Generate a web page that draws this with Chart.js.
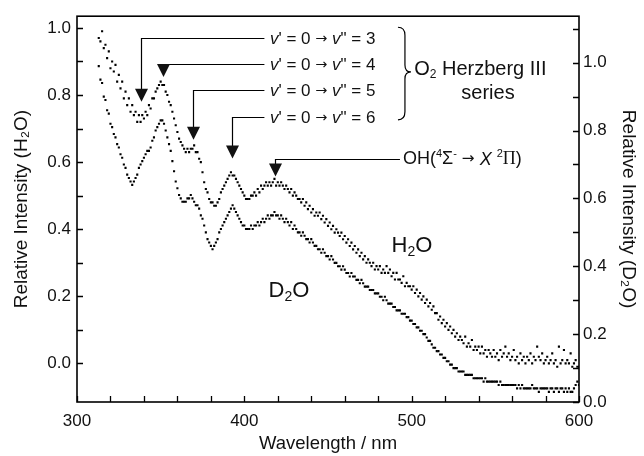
<!DOCTYPE html>
<html><head><meta charset="utf-8">
<script src="https://cdn.jsdelivr.net/npm/chart.js@4/dist/chart.umd.min.js"></script>
<style>html,body{margin:0;padding:0;background:#fff}#wrap{width:644px;height:456px}</style>
</head><body><div id="wrap"><canvas id="c" width="644" height="456"></canvas></div>
<script>
const wavelengths = [313,314,315,316,317,318,319,320,321,322,323,324,325,326,327,328,329,330,331,332,333,334,335,336,337,338,339,340,341,342,343,344,345,346,347,348,349,350,351,352,353,354,355,356,357,358,359,360,361,362,363,364,365,366,367,368,369,370,371,372,373,374,375,376,377,378,379,380,381,382,383,384,385,386,387,388,389,390,391,392,393,394,395,396,397,398,399,400,401,402,403,404,405,406,407,408,409,410,411,412,413,414,415,416,417,418,419,420,421,422,423,424,425,426,427,428,429,430,431,432,433,434,435,436,437,438,439,440,441,442,443,444,445,446,447,448,449,450,451,452,453,454,455,456,457,458,459,460,461,462,463,464,465,466,467,468,469,470,471,472,473,474,475,476,477,478,479,480,481,482,483,484,485,486,487,488,489,490,491,492,493,494,495,496,497,498,499,500,501,502,503,504,505,506,507,508,509,510,511,512,513,514,515,516,517,518,519,520,521,522,523,524,525,526,527,528,529,530,531,532,533,534,535,536,537,538,539,540,541,542,543,544,545,546,547,548,549,550,551,552,553,554,555,556,557,558,559,560,561,562,563,564,565,566,567,568,569,570,571,572,573,574,575,576,577,578,579,580,581,582,583,584,585,586,587,588,589,590,591,592,593,594,595,596,597,598,599,600];

// Relative intensity, H2O (left axis)
const h2o = [
0.97,0.96,0.99,0.94,0.95,0.91,0.93,0.88,0.90,0.87,
0.89,0.84,0.86,0.82,0.84,0.79,0.81,0.77,0.79,0.75,
0.77,0.74,0.75,0.72,0.74,0.72,0.74,0.73,0.75,0.74,
0.77,0.76,0.79,0.79,0.81,0.82,0.83,0.84,0.83,0.83,
0.81,0.80,0.78,0.77,0.75,0.73,0.71,0.69,0.67,0.66,
0.65,0.64,0.63,0.64,0.63,0.64,0.64,0.65,0.63,0.63,
0.61,0.60,0.57,0.54,0.52,0.51,0.49,0.48,0.48,0.47,
0.47,0.48,0.49,0.51,0.52,0.53,0.54,0.55,0.56,0.57,
0.56,0.56,0.55,0.54,0.53,0.52,0.51,0.50,0.49,0.49,
0.49,0.50,0.50,0.51,0.50,0.52,0.51,0.53,0.52,0.53,
0.54,0.53,0.54,0.53,0.54,0.55,0.53,0.54,0.53,0.54,
0.53,0.52,0.53,0.52,0.51,0.52,0.50,0.51,0.50,0.49,
0.49,0.48,0.49,0.47,0.48,0.46,0.47,0.45,0.46,0.44,
0.45,0.44,0.45,0.43,0.44,0.42,0.43,0.41,0.42,0.40,
0.41,0.39,0.40,0.39,0.38,0.39,0.37,0.38,0.36,0.37,
0.35,0.36,0.34,0.35,0.33,0.34,0.32,0.33,0.31,0.32,
0.30,0.31,0.30,0.29,0.30,0.28,0.29,0.28,0.29,0.27,
0.28,0.27,0.29,0.27,0.28,0.26,0.27,0.25,0.27,0.25,
0.25,0.24,0.26,0.23,0.24,0.23,0.23,0.22,0.23,0.21,
0.22,0.20,0.21,0.19,0.20,0.18,0.19,0.17,0.18,0.16,
0.17,0.15,0.15,0.13,0.14,0.12,0.13,0.11,0.12,0.10,
0.11,0.09,0.10,0.08,0.09,0.07,0.08,0.07,0.06,0.08,
0.05,0.06,0.05,0.07,0.04,0.05,0.04,0.05,0.03,0.05,
0.03,0.04,0.02,0.04,0.03,0.02,0.04,0.02,0.03,0.01,
0.04,0.02,0.03,0.05,0.02,0.03,0.01,0.02,0.04,0.01,
0.02,0.00,0.03,0.01,0.02,0.00,0.02,0.01,0.03,0.00,
0.02,0.01,0.05,0.02,0.01,0.03,0.00,0.01,0.02,0.00,
0.01,0.03,0.00,0.01,-0.01,0.05,0.00,0.01,0.04,0.00,
0.01,0.00,0.03,-0.01,0.00,0.01,-0.01,-0.01];

// Relative intensity, D2O (right axis)
const d2o = [
0.99,0.95,0.94,0.90,0.89,0.86,0.85,0.82,0.81,0.79,
0.78,0.76,0.75,0.73,0.72,0.70,0.69,0.67,0.66,0.65,
0.64,0.65,0.66,0.67,0.69,0.70,0.71,0.72,0.73,0.74,
0.74,0.75,0.77,0.78,0.80,0.81,0.82,0.83,0.83,0.82,
0.80,0.78,0.76,0.74,0.71,0.68,0.65,0.63,0.61,0.60,
0.59,0.59,0.59,0.60,0.60,0.61,0.60,0.59,0.58,0.58,
0.57,0.55,0.54,0.52,0.50,0.48,0.47,0.46,0.45,0.46,
0.47,0.48,0.50,0.51,0.52,0.53,0.54,0.55,0.56,0.57,
0.58,0.57,0.56,0.55,0.54,0.53,0.52,0.52,0.51,0.51,
0.51,0.52,0.51,0.52,0.52,0.53,0.52,0.53,0.54,0.53,
0.54,0.55,0.54,0.55,0.55,0.56,0.55,0.55,0.54,0.55,
0.54,0.53,0.54,0.53,0.52,0.53,0.51,0.52,0.51,0.50,
0.50,0.49,0.50,0.49,0.48,0.48,0.47,0.48,0.47,0.46,
0.46,0.45,0.45,0.44,0.45,0.44,0.43,0.43,0.42,0.43,
0.42,0.41,0.41,0.40,0.40,0.39,0.40,0.39,0.38,0.38,
0.37,0.38,0.37,0.37,0.36,0.36,0.35,0.36,0.35,0.34,
0.34,0.34,0.33,0.33,0.33,0.32,0.32,0.32,0.31,0.31,
0.30,0.31,0.30,0.29,0.29,0.29,0.28,0.28,0.27,0.27,
0.27,0.26,0.26,0.26,0.25,0.25,0.24,0.24,0.23,0.23,
0.22,0.22,0.21,0.21,0.20,0.20,0.19,0.18,0.18,0.17,
0.16,0.16,0.15,0.15,0.14,0.14,0.13,0.13,0.12,0.12,
0.11,0.11,0.10,0.10,0.10,0.09,0.09,0.09,0.09,0.08,
0.08,0.08,0.08,0.08,0.07,0.07,0.07,0.07,0.07,0.07,
0.06,0.07,0.06,0.06,0.06,0.06,0.06,0.06,0.06,0.05,
0.06,0.05,0.05,0.05,0.05,0.05,0.05,0.05,0.05,0.05,
0.04,0.05,0.04,0.05,0.04,0.04,0.04,0.04,0.04,0.05,
0.04,0.04,0.04,0.03,0.04,0.04,0.04,0.04,0.04,0.03,
0.04,0.04,0.03,0.04,0.04,0.03,0.04,0.04,0.03,0.04,
0.03,0.04,0.03,0.03,0.04,0.05,0.06,0.05];

const xTicks = [300,320,340,360,380,400,420,440,460,480,500,520,540,560,580,600];
const xTickLabels = [300, 400, 500, 600];
const leftTicks = [0.0,0.1,0.2,0.3,0.4,0.5,0.6,0.7,0.8,0.9,1.0];
const leftTickLabels = [0.0, 0.2, 0.4, 0.6, 0.8, 1.0];
const rightTicks = [0.0,0.1,0.2,0.3,0.4,0.5,0.6,0.7,0.8,0.9,1.0,1.1];
const rightTickLabels = [0.0, 0.2, 0.4, 0.6, 0.8, 1.0];

// Annotations (data coordinates: wavelength, left-axis value)
const herzbergLevels = [3, 4, 5, 6];
const herzbergArrowWl = [338.2, 351.4, 369.3, 392.6];
const herzbergBarVal = [0.969, 0.892, 0.815, 0.735];
const herzbergTipVal = [0.780, 0.854, 0.667, 0.611];
const ohArrow = {wl: 418.3, bar: 0.608, tip: 0.557, lineEnd: 493};

const FONT = '"Liberation Sans", Arial, Helvetica, sans-serif';
const ARROW_FONT = '"DejaVu Sans", sans-serif';
Chart.defaults.font.family = FONT;
Chart.defaults.color = '#111';

function pts(ys){ return wavelengths.map((w,i)=>({x:w, y:ys[i]})); }
function near(v, arr){ return arr.some(a => Math.abs(a - v) < 1e-6); }
function setTicks(list){ return function(scale){ scale.ticks = list.map(v => ({value: v})); }; }

const annot = {
  id: 'annot',
  afterDraw(chart){
    const {ctx, chartArea: a, scales} = chart;
    const X = scales.x, Y = scales.y, Y2 = scales.y2;
    const px = v => X.getPixelForValue(v), py = v => Y.getPixelForValue(v);
    ctx.save();
    ctx.strokeStyle = '#000'; ctx.fillStyle = '#111';
    ctx.lineWidth = 1.6;
    ctx.strokeRect(a.left, a.top, a.right - a.left, a.bottom - a.top);
    ctx.lineWidth = 1.3;
    ctx.beginPath();
    X.ticks.forEach(t => { const p = Math.round(X.getPixelForValue(t.value)) + 0.5; ctx.moveTo(p, a.bottom); ctx.lineTo(p, a.bottom - 6); });
    Y.ticks.forEach(t => { const p = Math.round(Y.getPixelForValue(t.value)) + 0.5; ctx.moveTo(a.left, p); ctx.lineTo(a.left + 6, p); });
    Y2.ticks.forEach(t => { const p = Math.round(Y2.getPixelForValue(t.value)) + 0.5; ctx.moveTo(a.right, p); ctx.lineTo(a.right - 6, p); });
    ctx.stroke();

    function arrowHead(x, yTip){
      ctx.beginPath(); ctx.moveTo(x, yTip); ctx.lineTo(x - 6.5, yTip - 13); ctx.lineTo(x + 6.5, yTip - 13); ctx.closePath(); ctx.fill();
    }
    function rich(segs, x, y, size){
      let cx = x;
      ctx.textBaseline = 'middle'; ctx.textAlign = 'left';
      segs.forEach(s => {
        const sz = (s.sup || s.sub) ? Math.round(size*0.62) : (s.arrow ? size*0.85 : size);
        const fam = s.serif ? '"Liberation Serif", "Times New Roman", serif' : (s.arrow ? ARROW_FONT : FONT);
        ctx.font = (s.it ? 'italic ' : '') + sz + 'px ' + fam;
        ctx.fillText(s.t, cx, s.sup ? y - size*0.33 : (s.sub ? y + size*0.25 : y));
        cx += ctx.measureText(s.t).width;
      });
    }
    ctx.lineWidth = 1.2;
    const textWl = 415.3, barEndWl = 412;
    herzbergLevels.forEach((lev, i) => {
      const x = Math.round(px(herzbergArrowWl[i])) + 0.5, yb = Math.round(py(herzbergBarVal[i])) + 0.5, yt = py(herzbergTipVal[i]);
      ctx.beginPath(); ctx.moveTo(px(barEndWl), yb); ctx.lineTo(x, yb); ctx.lineTo(x, yt - 10); ctx.stroke();
      arrowHead(x, yt);
      rich([{t:'v', it:1}, {t:"' = 0 "}, {t:'\u2192', arrow:1}, {t:' '}, {t:'v', it:1}, {t:'" = ' + lev}], px(textWl), yb + 1, 17);
    });
    {
      const x = Math.round(px(ohArrow.wl)) + 0.5, yb = Math.round(py(ohArrow.bar)) + 0.5, yt = py(ohArrow.tip);
      ctx.beginPath(); ctx.moveTo(px(ohArrow.lineEnd), yb); ctx.lineTo(x, yb); ctx.lineTo(x, yt - 10); ctx.stroke();
      arrowHead(x, yt);
      rich([{t:'OH('}, {t:'4', sup:1}, {t:'\u03A3'}, {t:'-', sup:1}, {t:' '}, {t:'\u2192', arrow:1}, {t:' '}, {t:'X', it:1}, {t:' '}, {t:'2', sup:1}, {t:'\u03A0', serif:1}, {t:')'}], px(494.8), yb, 18);
    }
    {
      const bx = px(491.8), top = py(1.002), bot = py(0.726), mid = py(0.869);
      ctx.lineWidth = 1.2;
      ctx.beginPath();
      ctx.moveTo(bx, top);
      ctx.quadraticCurveTo(bx + 7, top, bx + 7, top + 8);
      ctx.lineTo(bx + 7, mid - 7);
      ctx.quadraticCurveTo(bx + 7, mid, bx + 13, mid);
      ctx.quadraticCurveTo(bx + 7, mid, bx + 7, mid + 7);
      ctx.lineTo(bx + 7, bot - 8);
      ctx.quadraticCurveTo(bx + 7, bot, bx, bot);
      ctx.stroke();
      rich([{t:'O'}, {t:'2', sub:1}, {t:' Herzberg III'}], px(501.5), py(0.875), 20);
      ctx.textAlign = 'center';
      ctx.font = '20px ' + FONT;
      ctx.fillText('series', px(545.6), py(0.806));
    }
    function chem(pre, cx, cy){
      const big = 22, small = 14;
      ctx.textBaseline = 'middle'; ctx.textAlign = 'left';
      ctx.font = big + 'px ' + FONT; const w1 = ctx.measureText(pre).width, w3 = ctx.measureText('O').width;
      ctx.font = small + 'px ' + FONT; const w2 = ctx.measureText('2').width;
      let x0 = cx - (w1 + w2 + w3)/2;
      ctx.font = big + 'px ' + FONT; ctx.fillText(pre, x0, cy);
      ctx.font = small + 'px ' + FONT; ctx.fillText('2', x0 + w1, cy + 6);
      ctx.font = big + 'px ' + FONT; ctx.fillText('O', x0 + w1 + w2, cy);
    }
    chem('H', px(500.2), py(0.35));
    chem('D', px(426.7), py(0.216));
    ctx.restore();
  }
};

new Chart(document.getElementById('c'), {
  type: 'scatter',
  data: {
    datasets: [
      {label: 'H2O', data: pts(h2o), yAxisID: 'y', pointStyle: 'rect', pointRadius: 1.5, borderWidth: 0, backgroundColor: '#000', showLine: false},
      {label: 'D2O', data: pts(d2o), yAxisID: 'y2', pointStyle: 'rect', pointRadius: 1.5, borderWidth: 0, backgroundColor: '#000', showLine: false}
    ]
  },
  options: {
    responsive: false, animation: false, devicePixelRatio: 1,
    layout: {padding: {top: 14, left: 0, right: 0, bottom: 0}},
    plugins: {legend: {display: false}, tooltip: {enabled: false}},
    scales: {
      x: {
        type: 'linear', min: 300, max: 600,
        grid: {display: false, drawTicks: false}, border: {display: false},
        afterBuildTicks: setTicks(xTicks),
        afterFit(s){ s.height = 54; },
        ticks: {padding: 9, maxRotation: 0, autoSkip: false, font: {size: 17}, color: '#111',
          callback: v => near(v, xTickLabels) ? String(v) : ''},
        title: {display: true, text: 'Wavelength / nm', font: {size: 18.5}, color: '#111', padding: {top: 0, bottom: 1}}
      },
      y: {
        type: 'linear', position: 'left', min: -0.115, max: 1.035,
        grid: {display: false, drawTicks: false}, border: {display: false},
        afterBuildTicks: setTicks(leftTicks),
        afterFit(s){ s.width = 77; },
        ticks: {padding: 6, autoSkip: false, font: {size: 17}, color: '#111',
          callback: v => near(v, leftTickLabels) ? v.toFixed(1) : ''},
        title: {display: true, text: 'Relative Intensity (H\u2082O)', font: {size: 19}, color: '#111', padding: {top: 10, bottom: 0}}
      },
      y2: {
        type: 'linear', position: 'right', min: 0, max: 1.137,
        grid: {display: false, drawTicks: false}, border: {display: false},
        afterBuildTicks: setTicks(rightTicks),
        afterFit(s){ s.width = 65; },
        ticks: {padding: 4, autoSkip: false, font: {size: 17}, color: '#111',
          callback: v => near(v, rightTickLabels) ? v.toFixed(1) : ''},
        title: {display: true, text: 'Relative Intensity (D\u2082O)', font: {size: 19}, color: '#111', padding: {top: 4, bottom: 0}}
      }
    }
  },
  plugins: [annot]
});
</script>
</body></html>
